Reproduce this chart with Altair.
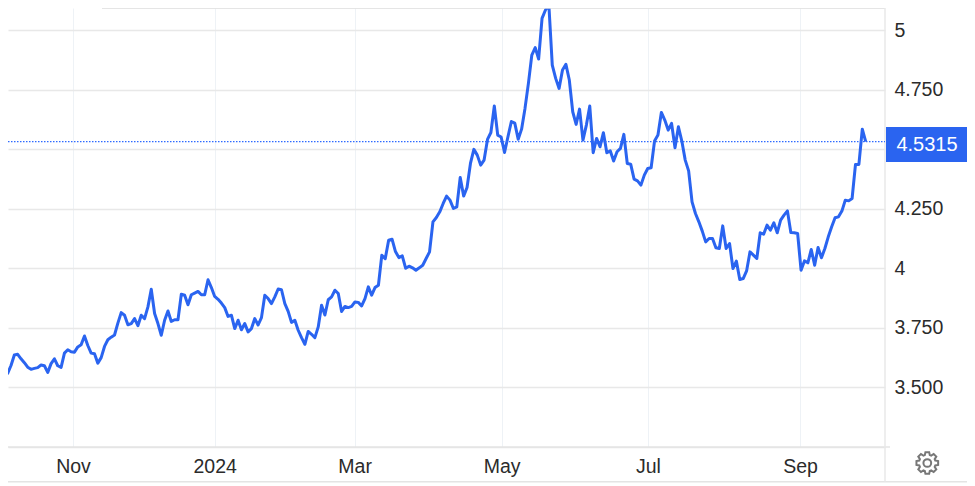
import math
import altair as alt
import pandas as pd

# Yield, one value per session, in order
oct_nov = [3.625,3.599,3.559,3.592,3.636,3.639,3.620,3.604,3.585,3.576,3.580,3.583,3.594,3.591,3.563,3.600,3.620,3.591,3.584,3.644,3.658,3.650,3.648,3.670,3.679,3.716,3.676,3.644,3.641,3.602,3.625,3.672,3.700,3.711,3.720,3.770,3.814,3.803]
dec_jan = [3.763,3.768,3.789,3.759,3.803,3.789,3.838,3.912,3.810,3.768,3.719,3.782,3.821,3.777,3.784,3.784,3.891,3.887,3.847,3.889,3.896,3.903,3.889,3.889,3.952,3.919,3.882,3.870,3.854,3.835,3.798,3.803,3.747,3.782,3.742,3.768,3.733]
jan_mar = [3.747,3.789,3.762,3.793,3.887,3.873,3.852,3.880,3.913,3.910,3.852,3.819,3.773,3.782,3.740,3.709,3.681,3.735,3.723,3.709,3.754,3.845,3.804,3.868,3.880,3.908,3.894,3.819,3.840,3.835,3.840,3.859,3.857,3.842,3.873,3.922,3.887,3.919]
mar_apr = [3.929,4.055,4.040,4.118,4.122,4.070,4.045,4.052,4.000,4.009,4.002,3.992,4.002,4.013,4.041,4.069,4.195,4.213,4.237,4.272,4.303,4.286,4.251,4.258,4.381,4.303,4.339,4.440,4.499,4.475,4.433,4.454,4.541,4.570,4.681,4.559]
may_jun = [4.551,4.486,4.552,4.616,4.609,4.542,4.584,4.671,4.776,4.895,4.926,4.878,5.049,5.084,5.105,4.853,4.797,4.755,4.832,4.856,4.790,4.657,4.604,4.668,4.538,4.601,4.681,4.485,4.545,4.510,4.569,4.485,4.493,4.450,4.489,4.503,4.562]
jun_aug = [4.440,4.437,4.374,4.367,4.349,4.391,4.419,4.422,4.534,4.559,4.654,4.622,4.580,4.608,4.506,4.594,4.534,4.454,4.409,4.279,4.230,4.195,4.156,4.111,4.125,4.125,4.086,4.083,4.178,4.083,4.104,3.999,4.030,3.953,3.957,3.989,4.069]
aug_sep = [4.055,4.041,4.149,4.143,4.181,4.160,4.191,4.149,4.202,4.223,4.241,4.150,4.149,4.146,3.992,4.031,4.023,4.079,4.013,4.087,4.044,4.083,4.132,4.174,4.212,4.216,4.240,4.286,4.283,4.293,4.436,4.436,4.584,4.5315]

# x axis: session numbers of the month labels
tick_sessions = [21.56, 63.98, 105.9, 149.15, 192.06, 236.7]
tick_labels = ["Nov", "2024", "Mar", "May", "Jul", "Sep"]
# y axis
y_ticks = [3.25, 3.5, 3.75, 4, 4.25, 4.5, 4.75, 5]
y_labels = ["", "3.500", "3.750", "4", "4.250", "", "4.750", "5"]
last_value = 4.5315
last_label = "4.5315"

values = oct_nov + dec_jan + jan_mar + mar_apr + may_jun + jun_aug + aug_sep
df = pd.DataFrame({"session": range(len(values)), "value": values})

BLUE = "#2a64f0"
GRID = "#e8e8e8"
FONT = "Liberation Sans"
TXT = "#2b2b2b"

W, H = 877, 439
xscale = alt.Scale(domain=[2.1, 112, 222, 261.67], range=[0, 367, 742, W], nice=False, zero=False)
yscale = alt.Scale(domain=[3.25, 5.0924], nice=False, zero=False)

js = lambda a: "[" + ",".join(repr(v) for v in a) + "]"

y_axis = alt.Axis(
    orient="right", values=y_ticks, labelExpr=f"{js(y_labels)}[indexof({js(y_ticks)}, datum.value)]",
    grid=True, gridColor=GRID, gridWidth=1.5, ticks=False, domain=False,
    labelFont=FONT, labelFontSize=19.5, labelColor=TXT, labelPadding=9, labelAlign="left")

line = alt.Chart(df).mark_line(color=BLUE, strokeWidth=3, clip=True, strokeJoin="round").encode(
    x=alt.X("session:Q", scale=xscale, title=None, axis=alt.Axis(
        values=tick_sessions, labelExpr=f"{js(tick_labels)}[indexof({js(tick_sessions)}, datum.value)]",
        grid=True, gridColor="#eef2f6", gridWidth=1, ticks=False, domain=False,
        labelFont=FONT, labelFontSize=19.5, labelColor=TXT, labelPadding=10, labelFlush=False)),
    y=alt.Y("value:Q", scale=yscale, title=None, axis=y_axis),
)

dotted = alt.Chart(pd.DataFrame({"v": [last_value]})).mark_rule(color="#2f6bff", strokeWidth=1.2, strokeDash=[1.5, 1.5]).encode(
    y=alt.Y("v:Q", scale=yscale, title=None, axis=y_axis), x=alt.value(0), x2=alt.value(W))

def hline(y, x0, x1, color="#e4e4e4", w=1.5):
    return alt.Chart(pd.DataFrame({"a": [0]})).mark_rule(color=color, strokeWidth=w).encode(
        y=alt.value(y), x=alt.value(x0), x2=alt.value(x1))

def vline(x, y0, y1, color="#e8e8e8", w=1.5):
    return alt.Chart(pd.DataFrame({"a": [0]})).mark_rule(color=color, strokeWidth=w).encode(
        x=alt.value(x), y=alt.value(y0), y2=alt.value(y1))

tag = alt.Chart(pd.DataFrame({"a": [0]})).mark_rect(color="#2a64f0").encode(
    x=alt.value(878), x2=alt.value(959), y=alt.value(119), y2=alt.value(154))
tag_text = alt.Chart(pd.DataFrame({"t": [last_label]})).mark_text(
    color="white", font=FONT, fontSize=20, align="center", baseline="middle").encode(
    text="t:N", x=alt.value(919), y=alt.value(136.5))

# settings gear outline
pts = []
N = 8
for i in range(N):
    a = 2 * math.pi * i / N
    for da, r in [(-0.30, 0.76), (-0.17, 1.0), (0.17, 1.0), (0.30, 0.76)]:
        pts.append((r * math.cos(a + da), r * math.sin(a + da)))
gear_path = "M" + "L".join(f"{x:.3f},{y:.3f}" for x, y in pts) + "Z"
gear = alt.Chart(pd.DataFrame({"a": [0]})).mark_point(
    shape=gear_path, size=484, stroke="#777777", strokeWidth=2, filled=False, opacity=1).encode(
    x=alt.value(919.3), y=alt.value(455))
hub = alt.Chart(pd.DataFrame({"a": [0]})).mark_point(
    shape="circle", size=60, stroke="#777777", strokeWidth=2, filled=False, opacity=1).encode(
    x=alt.value(919.3), y=alt.value(455))

chart = alt.layer(
    line,
    hline(0, 94, W, "#dddddd"),
    hline(H, 0, W + 5),
    hline(473.7, 0, 959),
    vline(W, 0, 473.7),
    dotted, tag, tag_text, gear, hub,
).properties(
    width=W, height=H, background="white",
    autosize=alt.AutoSizeParams(type="none"),
    padding={"left": 0, "top": 0, "right": 82, "bottom": 36},
).configure_view(stroke=None)

chart.save("out.html", embed_options={"renderer": "svg", "actions": False})
